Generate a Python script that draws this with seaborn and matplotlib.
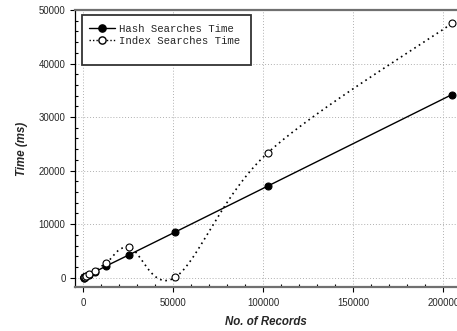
import numpy as np
import pandas as pd
import matplotlib
matplotlib.use("Agg")
import matplotlib.pyplot as plt
from matplotlib.lines import Line2D
from matplotlib.patches import Rectangle
from matplotlib.ticker import MultipleLocator
import seaborn as sns

records = [100, 200, 400, 800, 1600, 3200, 6400, 12800, 25600, 51200, 102400, 204800]
hash_time = [17, 33, 67, 133, 267, 533, 1070, 2200, 4300, 8550, 17100, 34200]
index_time = [20, 40, 80, 170, 330, 700, 1300, 2750, 5650, 100, 23300, 47500]
series_names = ["Hash Searches Time", "Index Searches Time"]
x_ticks = [0, 50000, 100000, 150000, 200000]
y_ticks = [0, 10000, 20000, 30000, 40000, 50000]


def smooth_curve(x, y, n=60):
    """Catmull-Rom style (spreadsheet 'smoothed line') Bezier through the points."""
    P = np.column_stack([np.asarray(x, float), np.asarray(y, float)])
    k = len(P)
    out = []
    t = np.linspace(0, 1, n)[:, None]
    for i in range(k - 1):
        p0 = P[i - 1] if i > 0 else P[i]
        p1, p2 = P[i], P[i + 1]
        p3 = P[i + 2] if i + 2 < k else P[i + 1]
        c1 = p1 + (p2 - p0) / 6
        c2 = p2 - (p3 - p1) / 6
        seg = ((1 - t) ** 3) * p1 + 3 * ((1 - t) ** 2) * t * c1 + 3 * (1 - t) * t ** 2 * c2 + t ** 3 * p2
        out.append(seg if i == 0 else seg[1:])
    pts = np.vstack(out)
    return pts[:, 0], pts[:, 1]


sns.set_style("white")
plt.rcParams["font.family"] = ["Liberation Sans", "DejaVu Sans"]

fig = plt.figure(figsize=(4.57, 3.31), dpi=100)
ax = fig.add_axes([74.7 / 457, (331 - 287.3) / 331, 1 - 74.7 / 457, (287.3 - 10) / 331])

df_hash = pd.DataFrame({"x": records, "y": hash_time})
sx, sy = smooth_curve(records, index_time)
df_curve = pd.DataFrame({"x": sx, "y": sy})
df_index = pd.DataFrame({"x": records, "y": index_time})

sns.lineplot(data=df_hash, x="x", y="y", ax=ax, color="black", lw=1.0, zorder=3)
sns.scatterplot(data=df_hash, x="x", y="y", ax=ax, color="black", s=25,
                edgecolor="black", linewidth=0.8, zorder=4)
sns.lineplot(data=df_curve, x="x", y="y", ax=ax, color="black", lw=1.2, sort=False,
             estimator=None, linestyle=(0, (1, 2.2)), zorder=3)
sns.scatterplot(data=df_index, x="x", y="y", ax=ax, color="white", s=25,
                edgecolor="black", linewidth=0.8, zorder=5)

ax.set_xlim(-4800, 207600)
ax.set_ylim(-1800, 50000)
ax.set_xticks(x_ticks)
ax.set_yticks(y_ticks)
ax.set_xticklabels([str(v) for v in x_ticks])
ax.set_yticklabels([str(v) for v in y_ticks])
ax.xaxis.set_minor_locator(MultipleLocator(10000))
ax.yaxis.set_minor_locator(MultipleLocator(2000))
ax.tick_params(which="major", direction="out", length=3.6, width=0.8,
               color="black", labelsize=6.9, pad=3, bottom=True, left=True)
ax.tick_params(which="minor", direction="in", length=2.2, width=0.8,
               color="black", bottom=True, left=True)
ax.tick_params(axis="x", which="major", pad=4)
ax.grid(True, which="major", color="#b0b0b0", linestyle=(0, (1, 2)), lw=0.7)

for side in ["top", "bottom"]:
    ax.spines[side].set_color("#707070")
    ax.spines[side].set_linewidth(1.6)
ax.spines["left"].set_color("black")
ax.spines["left"].set_linewidth(0.9)
ax.spines["right"].set_visible(False)

ax.set_xlabel("No. of Records", fontsize=8.3, fontweight="bold", style="italic", labelpad=6)
ax.set_ylabel("Time (ms)", fontsize=8.3, fontweight="bold", style="italic", labelpad=8)

aw = 457 - 74.7
ah = 287.3 - 10
ax.add_patch(Rectangle(((82 - 74.7) / aw, 1 - (65 - 10) / ah), 169 / aw, 50 / ah,
                       transform=ax.transAxes, facecolor="white", edgecolor="#333333",
                       lw=1.3, zorder=6))

handles = [
    Line2D([], [], color="black", lw=1.0, marker="o", markersize=5.2,
           markerfacecolor="black", markeredgecolor="black"),
    Line2D([], [], color="black", lw=1.0, linestyle=(0, (1, 1.5)), marker="o",
           markersize=5.2, markerfacecolor="white", markeredgecolor="black"),
]
leg = ax.legend(handles, series_names, loc="upper left",
                bbox_to_anchor=((89 - 74.7) / aw, 1 - (23.5 - 10) / ah),
                borderaxespad=0, borderpad=0, frameon=False, handlelength=2.4,
                handletextpad=0.45, labelspacing=0.25,
                prop={"family": "Liberation Mono", "size": 7.7})
leg.set_zorder(7)

fig.savefig("out.png", dpi=100)
